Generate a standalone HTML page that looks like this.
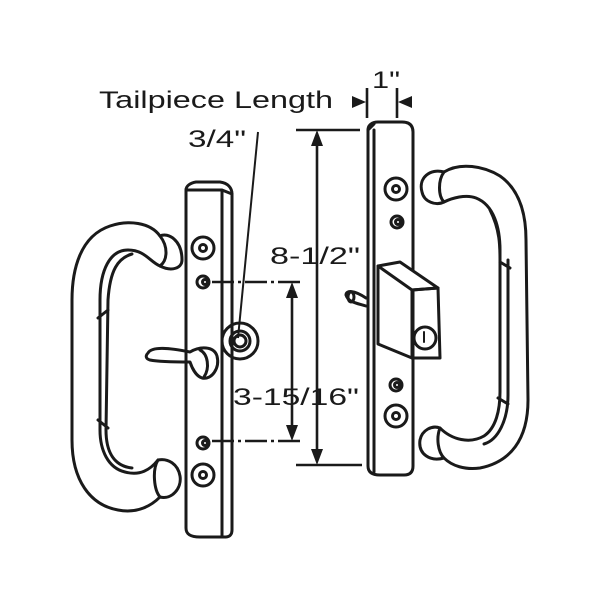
<!DOCTYPE html>
<html><head><style>html,body{margin:0;padding:0;background:#fff}svg{display:block}</style></head>
<body>
<svg width="600" height="600" viewBox="0 0 600 600" xmlns="http://www.w3.org/2000/svg" font-family="Liberation Sans, Arial, sans-serif">
<g fill="none" stroke="#1a1a1a" stroke-width="3" stroke-linejoin="round" stroke-linecap="round">
<!-- LEFT HANDLE -->
<path d="M182 260 C182 240 168 232 160 236 C150 222 128 220 110 226 C80 236 72 270 72 300 L72 440 C72 480 90 505 118 510 C138 514 152 505 160 497 C172 500 182 488 180 476 C178 464 168 458 158 460 C150 470 140 476 125 472 C108 468 100 450 100 430 L100 300 C100 270 110 250 128 250 C145 250 150 262 160 266 C172 272 182 268 182 260 Z"/>
<path d="M108 300 C110 270 118 258 132 254 M108 300 L106 430 C106 452 114 466 132 468 M98 318 L108 310 M98 420 L108 428"/>
<path d="M160 236 C168 246 168 260 160 266 M158 460 C152 470 154 490 160 497"/>
<!-- LEFT PLATE -->
<path d="M186 190 L186 528 C186 534 190 537 200 537 L226 537 C230 537 232 534 232 530 L232 194 C232 188 228 183 220 182 L196 182 C190 183 186 186 186 190 Z"/>
<path d="M186 190 L222 190 L232 194 M222 190 L222 536"/>
<circle cx="203" cy="248" r="11"/><circle cx="203" cy="248" r="3.5"/>
<circle cx="203" cy="282" r="6"/><circle cx="205" cy="282" r="2.5"/>
<circle cx="203" cy="443" r="6"/><circle cx="205" cy="443" r="2.5"/>
<circle cx="203" cy="475" r="11"/><circle cx="203" cy="475" r="3.5"/>
<!-- lever -->
<path d="M148 353 C152 346 170 348 190 352 C200 346 214 346 217 356 C220 368 212 380 202 378 C196 376 192 368 190 362 C176 362 160 362 150 360 C146 359 145 356 148 353 Z"/>
<path d="M200 350 C208 354 210 368 204 377"/>
<!-- cylinder -->
<circle cx="240" cy="341" r="18"/><circle cx="240" cy="341" r="10"/><circle cx="240" cy="341" r="6"/>
<!-- RIGHT PLATE -->
<path d="M368 130 L368 466 C368 472 372 475 380 475 L404 475 C410 475 413 472 413 466 L413 132 C413 126 410 122 402 122 L378 122 C372 122 368 125 368 130 Z"/>
<path d="M368 130 L374 124 M374 130 L374 472"/>
<circle cx="396" cy="189" r="11"/><circle cx="396" cy="189" r="3.5"/>
<circle cx="397" cy="222" r="6"/><circle cx="398" cy="222" r="2.5"/>
<circle cx="396" cy="385" r="6"/><circle cx="397" cy="385" r="2.5"/>
<circle cx="396" cy="416" r="11"/><circle cx="396" cy="416" r="3.5"/>
<!-- lock box -->
<path d="M378 266 L400 262 L438 288 L412 290 Z" fill="#fff"/>
<path d="M378 266 L378 344 L412 358 L412 290"/>
<path d="M412 290 L438 288 L440 358 L412 358"/>
<circle cx="425" cy="338" r="11"/><path d="M424 332 L424 342" stroke-width="2"/>
<!-- pin -->
<path d="M346 295 C346 290 354 290 366 298 M346 295 C348 302 356 303 366 306"/><ellipse cx="351" cy="297" rx="3" ry="5"/>
<!-- RIGHT HANDLE -->
<path d="M422 192 C418 178 430 168 444 172 C460 162 484 166 500 176 C520 190 526 215 526 240 L528 400 C528 440 510 462 480 468 C465 470 452 466 444 458 C430 462 418 454 420 440 C422 430 432 425 440 428 C452 440 470 444 484 436 C496 428 500 410 500 392 L500 250 C500 228 494 205 476 198 C466 194 452 198 444 202 C436 206 424 202 422 192 Z"/>
<path d="M444 172 C438 180 438 196 444 202 M440 428 C436 438 438 452 444 458"/>
<path d="M490 210 C500 230 500 246 500 260 M508 260 L508 395 C508 420 498 440 484 444 M500 262 L510 268 M498 398 L508 404"/>
</g>
<!-- DIMENSIONS -->
<g stroke="#1a1a1a" stroke-width="2.6" fill="none">
<path d="M296 130 L360 130 M296 465 L362 465 M317 140 L317 456"/>
<path d="M292 290 L292 432"/>
<path d="M212 282 L300 282 M212 441 L300 441" stroke-dasharray="22 4 3 4"/>
<path d="M367 88 L367 118 M397 88 L397 118"/>
<path d="M258 132 L238 338" stroke-width="2"/>
</g>
<g fill="#1a1a1a">
<path d="M317 130 L311 146 L323 146 Z"/><path d="M317 465 L311 449 L323 449 Z"/>
<path d="M292 282 L286 298 L298 298 Z"/><path d="M292 441 L286 425 L298 425 Z"/>
<path d="M366 102 L352 96 L352 108 Z"/><path d="M398 102 L412 96 L412 108 Z"/>
</g>
<g fill="#1a1a1a" font-size="24">
<text x="99" y="108" textLength="234" lengthAdjust="spacingAndGlyphs">Tailpiece Length</text>
<text x="188" y="147" textLength="58" lengthAdjust="spacingAndGlyphs">3/4"</text>
<text x="372" y="88" textLength="28" lengthAdjust="spacingAndGlyphs">1"</text>
<text x="270" y="264" textLength="90" lengthAdjust="spacingAndGlyphs">8-1/2"</text>
<text x="233" y="405" textLength="126" lengthAdjust="spacingAndGlyphs">3-15/16"</text>
</g>
</svg>
</body></html>
